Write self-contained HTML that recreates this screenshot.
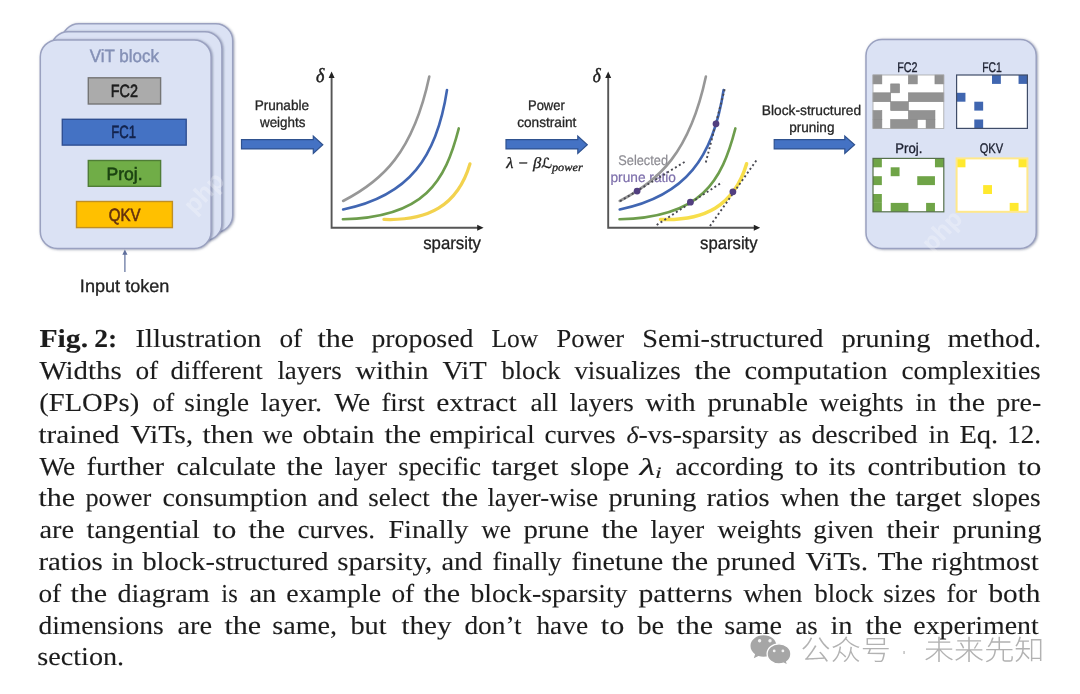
<!DOCTYPE html>
<html lang="en">
<head>
<meta charset="utf-8">
<title>Fig. 2 – Low Power Semi-structured pruning</title>
<style>
html,body{margin:0;padding:0;background:#fff}
body{width:1080px;height:694px;overflow:hidden}
svg{display:block;filter:blur(.35px)}
text{font-family:'Liberation Sans',sans-serif;white-space:pre;text-rendering:geometricPrecision}
.card{fill:#dbe2f4;stroke:#9aa1c0;stroke-width:1.5}
.box{stroke-width:1.4}
.b-fc2{fill:#ababab;stroke:#757575}
.b-fc1{fill:#4472c4;stroke:#2f4f93}
.b-proj{fill:#70ad47;stroke:#4f7d36}
.b-qkv{fill:#ffc000;stroke:#bf8f24}
.lb{font-size:17.8px;fill:#222;stroke:#222;stroke-width:.3}
.ls{font-size:14px;fill:#262626;stroke:#262626;stroke-width:.3}
.title{fill:#8490b6;stroke:#8490b6;stroke-width:.45}
.t-fc2{fill:#1d1d1d;stroke:#1d1d1d;stroke-width:.6}.t-fc1{fill:#13234c;stroke:#13234c;stroke-width:.6}.t-proj{fill:#1b4311;stroke:#1b4311;stroke-width:.6}.t-qkv{fill:#63300e;stroke:#63300e;stroke-width:.6}
.sel1{fill:#8c8b92;stroke:#8c8b92;stroke-width:.2}.sel2{fill:#7d6fab;stroke:#7d6fab;stroke-width:.2}
.pl{fill:#1c2030;stroke:#1c2030;stroke-width:.35}
.math{font-family:'Liberation Serif',serif;font-style:italic;font-size:20px;fill:#1e1e1e;stroke:#1e1e1e;stroke-width:.5}
.fm{font-size:15.5px;stroke-width:.3}
.scr{font-family:'DejaVu Sans','Liberation Serif',serif;font-style:normal;font-size:14px}
.sub{font-size:11.5px}
.inarrow{stroke:#5f6f9c;stroke-width:1.2;fill:none}.inhead{fill:#5f6f9c}
.arrow{fill:#4472c4;stroke:#2f528f;stroke-width:1.2;stroke-linejoin:miter}
.axis{fill:none;stroke:#565656;stroke-width:1.9}
.axhead{fill:#222}
.curve{fill:none;stroke-width:2.6;stroke-linecap:round}
.c-gray{stroke:#979797}.c-blue{stroke:#4166b2}.c-green{stroke:#6d9d4c}.c-yellow{stroke:#f2d24e;stroke-width:3.2}.c2 .c-yellow{stroke:#f7de4a;stroke-width:3.5}
.tan{fill:none;stroke:#4a4a52;stroke-width:1.9;stroke-dasharray:2 2.6}
.dot{fill:#523f80}
.gbg{fill:#fff}
.gfr{fill:none;stroke-width:1.2}
.g-fc2 .cell{fill:#929292;stroke:#858585;stroke-width:.6}.g-fc2 .gfr{stroke:#a6a6a6;stroke-width:.8}
.g-fc1 .cell{fill:#4066b0}.g-fc1 .gfr{stroke:#3f4c68}
.g-proj .cell{fill:#6fa447}.g-proj .gfr{stroke:#56704a}
.g-qkv .cell{fill:#ffe92e}.g-qkv .gfr{stroke:#ffe88a;stroke-width:2}
.c{font-family:'Liberation Serif',serif;font-size:25.8px;fill:#1c1c1c;stroke:#1c1c1c;stroke-width:.1}
.b{font-weight:bold}
.i{font-style:italic;font-size:24px}
.sub2{font-size:16px}
.php{font-size:25px;font-weight:bold;fill:#fff;opacity:.26}
.wb{fill:#a6a6a6}.wb2{fill:#a6a6a6;stroke:#fff;stroke-width:1.3}.we{fill:#f2f2f2}
.wmt{font-family:'Liberation Sans','Noto Sans CJK SC','WenQuanYi Zen Hei',sans-serif;font-size:28px;font-weight:300;fill:#b2b2b2}
</style>
</head>
<body>
<svg width="1080" height="694" viewBox="0 0 1080 694">
<defs><filter id="sh" x="-5%" y="-5%" width="112%" height="112%"><feDropShadow dx="0.9" dy="0.5" stdDeviation="0.9" flood-color="#4c5478" flood-opacity="0.55"/></filter></defs>
<rect width="1080" height="694" fill="#fff"/>
<g class="cards">
<rect class="card" filter="url(#sh)" x="61.9" y="23.7" width="170.8" height="208.6" rx="17"/>
<rect class="card" filter="url(#sh)" x="51.1" y="31.8" width="170.8" height="208.6" rx="17"/>
<rect class="card" filter="url(#sh)" x="40.3" y="39.9" width="170.8" height="208.6" rx="17"/>
</g>
<rect class="box b-fc2" x="88.3" y="77.8" width="72.3" height="26.2"/>
<rect class="box b-fc1" x="62.3" y="119.3" width="123.9" height="25.8"/>
<rect class="box b-proj" x="88.3" y="160.5" width="72.3" height="25.8"/>
<rect class="box b-qkv" x="76.5" y="201.5" width="95.9" height="26.1"/>
<path class="inarrow" d="M124.9 272 V252.5"/><path class="inhead" d="M124.9 249.6 l2.6 5.2 h-5.2 z"/>
<path class="arrow" d="M241.5 139.6 H313.3 V136 L322.8 144.7 L313.3 153.4 V148.9 H241.5 Z"/>
<path class="arrow" d="M506 139.6 H577.8 V136 L587.3 144.7 L577.8 153.4 V148.9 H506 Z"/>
<path class="arrow" d="M774.2 139.6 H844.8 V136 L854.6 144.7 L844.8 153.4 V148.9 H774.2 Z"/>
<g class="labels under">
<text class="ls sel1" x="618.3" y="165" textLength="49.72" lengthAdjust="spacingAndGlyphs">Selected</text>
<text class="ls sel2" x="610.5" y="182" textLength="65.49" lengthAdjust="spacingAndGlyphs">prune ratio</text>
</g>
<g class="chart" transform="translate(0 0)">
<path class="axis" d="M331.6 76 V227.8 H479"/>
<path class="axhead" d="M331.6 71.6 l3 6.4 h-6 z M483.6 227.8 l-6.4 3 v-6 z"/>
<path class="curve c-gray" d="M343.1 201 C382.1 181 413 152.9 429.3 76.5"/>
<path class="curve c-blue" d="M343.1 209.5 C409.4 196 436.7 157.3 447 90"/>
<path class="curve c-green" d="M342.9 219.2 C425 217.700 445.2 181.1 458.8 128.4"/>
<path class="curve c-yellow" d="M383.9 219.4 C427.2 221.1 457.5 206.4 470 163.8"/>
</g>
<g class="chart c2" transform="translate(276.6 0)">
<path class="axis" d="M331.6 76 V227.8 H479"/>
<path class="axhead" d="M331.6 71.6 l3 6.4 h-6 z M483.6 227.8 l-6.4 3 v-6 z"/>
<path class="curve c-gray" d="M343.1 201 C382.1 181 413 152.9 429.3 76.5"/>
<path class="curve c-blue" d="M343.1 209.5 C409.4 196 436.7 157.3 447 90"/>
<path class="curve c-green" d="M342.9 219.2 C425 217.700 445.2 181.1 458.8 128.4"/>
<path class="curve c-yellow" d="M383.9 219.4 C427.2 221.1 457.5 206.4 470 163.8"/>
</g>
<g class="tangents">
<path class="tan" d="M620 201.3 L686.7 160.7"/>
<path class="tan" d="M705.8 162.5 L725 88"/>
<path class="tan" d="M656.7 225 L722.2 182.2"/>
<path class="tan" d="M710 226 L757.8 158.4"/>
<circle class="dot" cx="637.1" cy="191.1" r="3.4"/>
<circle class="dot" cx="716" cy="123.8" r="3.4"/>
<circle class="dot" cx="690.4" cy="202.2" r="3.4"/>
<circle class="dot" cx="732.9" cy="191.8" r="3.4"/>
</g>
<rect class="card panel" filter="url(#sh)" x="866" y="39.6" width="170.2" height="208.8" rx="16"/>
<g class="grid g-fc2">
<rect class="gbg" x="873" y="75" width="70.8" height="53.4"/>
<rect class="cell" x="873" y="75" width="8.85" height="8.9"/>
<rect class="cell" x="908.4" y="75" width="8.85" height="8.9"/>
<rect class="cell" x="934.95" y="75" width="8.85" height="8.9"/>
<rect class="cell" x="890.7" y="83.9" width="8.85" height="8.9"/>
<rect class="cell" x="873" y="92.8" width="17.7" height="8.9"/>
<rect class="cell" x="908.4" y="92.8" width="35.4" height="8.9"/>
<rect class="cell" x="890.7" y="101.7" width="17.7" height="8.9"/>
<rect class="cell" x="873" y="110.6" width="8.85" height="8.9"/>
<rect class="cell" x="908.4" y="110.6" width="26.55" height="8.9"/>
<rect class="cell" x="873" y="119.5" width="8.85" height="8.9"/>
<rect class="cell" x="890.7" y="119.5" width="26.55" height="8.9"/>
<rect class="cell" x="926.1" y="119.5" width="8.85" height="8.9"/>
<rect class="gfr" x="873" y="75" width="70.8" height="53.4"/>
</g>
<g class="grid g-fc1">
<rect class="gbg" x="956.6" y="75" width="70.8" height="53.4"/>
<rect class="cell" x="992" y="75" width="8.85" height="8.9"/>
<rect class="cell" x="1018.55" y="75" width="8.85" height="8.9"/>
<rect class="cell" x="956.6" y="92.8" width="8.85" height="8.9"/>
<rect class="cell" x="974.3" y="101.7" width="8.85" height="8.9"/>
<rect class="cell" x="974.3" y="119.5" width="8.85" height="8.9"/>
<rect class="gfr" x="956.6" y="75" width="70.8" height="53.4"/>
</g>
<g class="grid g-proj">
<rect class="gbg" x="873" y="158.4" width="70.8" height="53.4"/>
<rect class="cell" x="873" y="158.4" width="8.85" height="8.9"/>
<rect class="cell" x="934.95" y="158.4" width="8.85" height="8.9"/>
<rect class="cell" x="890.7" y="167.3" width="8.85" height="8.9"/>
<rect class="cell" x="873" y="176.2" width="8.85" height="8.9"/>
<rect class="cell" x="917.25" y="176.2" width="17.7" height="8.9"/>
<rect class="cell" x="873" y="194" width="8.85" height="8.9"/>
<rect class="cell" x="873" y="202.9" width="8.85" height="8.9"/>
<rect class="cell" x="890.7" y="202.9" width="17.7" height="8.9"/>
<rect class="cell" x="926.1" y="202.9" width="8.85" height="8.9"/>
<rect class="gfr" x="873" y="158.4" width="70.8" height="53.4"/>
</g>
<g class="grid g-qkv">
<rect class="gbg" x="956.6" y="158.4" width="70.8" height="53.4"/>
<rect class="cell" x="956.6" y="158.4" width="8.85" height="8.9"/>
<rect class="cell" x="1018.55" y="158.4" width="8.85" height="8.9"/>
<rect class="cell" x="983.15" y="185.1" width="8.85" height="8.9"/>
<rect class="cell" x="1009.7" y="202.9" width="8.85" height="8.9"/>
<rect class="gfr" x="956.6" y="158.4" width="70.8" height="53.4"/>
</g>
<g class="labels">
<text class="lb title" x="89.8" y="62.2" textLength="69.2" lengthAdjust="spacingAndGlyphs">ViT block</text>
<text class="lb t-fc2" x="110.79" y="96.9" textLength="27.23" lengthAdjust="spacingAndGlyphs">FC2</text>
<text class="lb t-fc1" x="111.36" y="138.2" textLength="24.76" lengthAdjust="spacingAndGlyphs">FC1</text>
<text class="lb t-proj" x="106.62" y="179.6" textLength="36.01" lengthAdjust="spacingAndGlyphs">Proj.</text>
<text class="lb t-qkv" x="108.7" y="221" textLength="31.78" lengthAdjust="spacingAndGlyphs">QKV</text>
<text class="lb" x="79.88" y="292" textLength="89.52" lengthAdjust="spacingAndGlyphs">Input token</text>
<text class="ls" x="254.63" y="109.7" textLength="54.46" lengthAdjust="spacingAndGlyphs">Prunable</text>
<text class="ls" x="259.96" y="126.5" textLength="45.44" lengthAdjust="spacingAndGlyphs">weights</text>
<text class="ls" x="527.97" y="110" textLength="36.81" lengthAdjust="spacingAndGlyphs">Power</text>
<text class="ls" x="517.2" y="126.7" textLength="59.19" lengthAdjust="spacingAndGlyphs">constraint</text>
<text class="ls" x="761.82" y="115.2" textLength="99.35" lengthAdjust="spacingAndGlyphs">Block-structured</text>
<text class="ls" x="789.2" y="132.4" textLength="45.26" lengthAdjust="spacingAndGlyphs">pruning</text>
<text class="lb" x="423.2" y="248.9" textLength="57.8" lengthAdjust="spacingAndGlyphs">sparsity</text>
<text class="lb" x="700.1" y="248.9" textLength="57.5" lengthAdjust="spacingAndGlyphs">sparsity</text>
<text class="ls pl" x="897.23" y="71.8" textLength="20.41" lengthAdjust="spacingAndGlyphs">FC2</text>
<text class="ls pl" x="982.26" y="71.8" textLength="19.58" lengthAdjust="spacingAndGlyphs">FC1</text>
<text class="ls pl" x="895.36" y="153.4" textLength="26.97" lengthAdjust="spacingAndGlyphs">Proj.</text>
<text class="ls pl" x="979.7" y="153.4" textLength="23.47" lengthAdjust="spacingAndGlyphs">QKV</text>
<text class="math" x="316" y="82" textLength="8.37" lengthAdjust="spacingAndGlyphs">δ</text>
<text class="math" x="592.7" y="82" textLength="8" lengthAdjust="spacingAndGlyphs">δ</text>
<text class="math fm" x="506.3" y="168" textLength="76.4" lengthAdjust="spacingAndGlyphs">λ − β<tspan class="scr">ℒ</tspan><tspan class="sub" dy="3.4">power</tspan></text>
</g>
<g class="caption">
<text class="c" y="347.4"><tspan class="b" x="39.4" textLength="48.72" lengthAdjust="spacingAndGlyphs">Fig.</tspan> <tspan class="b" x="94.33" textLength="22.97" lengthAdjust="spacingAndGlyphs">2:</tspan> <tspan x="135.4" textLength="126.09" lengthAdjust="spacingAndGlyphs">Illustration</tspan> <tspan x="279.4" textLength="22.77" lengthAdjust="spacingAndGlyphs">of</tspan> <tspan x="317.4" textLength="36.72" lengthAdjust="spacingAndGlyphs">the</tspan> <tspan x="371.4" textLength="102.09" lengthAdjust="spacingAndGlyphs">proposed</tspan> <tspan x="491.4" textLength="46.83" lengthAdjust="spacingAndGlyphs">Low</tspan> <tspan x="556.4" textLength="67.78" lengthAdjust="spacingAndGlyphs">Power</tspan> <tspan x="642.3" textLength="181.19" lengthAdjust="spacingAndGlyphs">Semi-structured</tspan> <tspan x="841.4" textLength="89.09" lengthAdjust="spacingAndGlyphs">pruning</tspan> <tspan x="947.4" textLength="93.82" lengthAdjust="spacingAndGlyphs">method.</tspan></text>
<text class="c" y="379.2"><tspan x="39.4" textLength="82.24" lengthAdjust="spacingAndGlyphs">Widths</tspan> <tspan x="135.4" textLength="22.77" lengthAdjust="spacingAndGlyphs">of</tspan> <tspan x="170.4" textLength="92.33" lengthAdjust="spacingAndGlyphs">different</tspan> <tspan x="277.4" textLength="64.24" lengthAdjust="spacingAndGlyphs">layers</tspan> <tspan x="355.4" textLength="73.09" lengthAdjust="spacingAndGlyphs">within</tspan> <tspan x="442.4" textLength="43.93" lengthAdjust="spacingAndGlyphs">ViT</tspan> <tspan x="501.4" textLength="59.1" lengthAdjust="spacingAndGlyphs">block</tspan> <tspan x="574.4" textLength="106.24" lengthAdjust="spacingAndGlyphs">visualizes</tspan> <tspan x="694.4" textLength="36.72" lengthAdjust="spacingAndGlyphs">the</tspan> <tspan x="744.4" textLength="143.09" lengthAdjust="spacingAndGlyphs">computation</tspan> <tspan x="901.4" textLength="139.24" lengthAdjust="spacingAndGlyphs">complexities</tspan></text>
<text class="c" y="411"><tspan x="39.29" textLength="99.96" lengthAdjust="spacingAndGlyphs">(FLOPs)</tspan> <tspan x="152.4" textLength="21.78" lengthAdjust="spacingAndGlyphs">of</tspan> <tspan x="184.35" textLength="64.72" lengthAdjust="spacingAndGlyphs">single</tspan> <tspan x="260.4" textLength="61.78" lengthAdjust="spacingAndGlyphs">layer.</tspan> <tspan x="334.4" textLength="35.68" lengthAdjust="spacingAndGlyphs">We</tspan> <tspan x="381.4" textLength="43.33" lengthAdjust="spacingAndGlyphs">first</tspan> <tspan x="436.25" textLength="80.39" lengthAdjust="spacingAndGlyphs">extract</tspan> <tspan x="530.4" textLength="27.38" lengthAdjust="spacingAndGlyphs">all</tspan> <tspan x="569.4" textLength="64.24" lengthAdjust="spacingAndGlyphs">layers</tspan> <tspan x="645.4" textLength="50.09" lengthAdjust="spacingAndGlyphs">with</tspan> <tspan x="707.4" textLength="100.7" lengthAdjust="spacingAndGlyphs">prunable</tspan> <tspan x="819.4" textLength="84.24" lengthAdjust="spacingAndGlyphs">weights</tspan> <tspan x="915.4" textLength="21.09" lengthAdjust="spacingAndGlyphs">in</tspan> <tspan x="948.4" textLength="36.72" lengthAdjust="spacingAndGlyphs">the</tspan> <tspan x="996.4" textLength="44.84" lengthAdjust="spacingAndGlyphs">pre-</tspan></text>
<text class="c" y="442.8"><tspan x="38.4" textLength="81.09" lengthAdjust="spacingAndGlyphs">trained</tspan> <tspan x="130.4" textLength="62.87" lengthAdjust="spacingAndGlyphs">ViTs,</tspan> <tspan x="202.4" textLength="51.08" lengthAdjust="spacingAndGlyphs">then</tspan> <tspan x="262.4" textLength="30.66" lengthAdjust="spacingAndGlyphs">we</tspan> <tspan x="302.4" textLength="72.09" lengthAdjust="spacingAndGlyphs">obtain</tspan> <tspan x="384.4" textLength="36.72" lengthAdjust="spacingAndGlyphs">the</tspan> <tspan x="429.32" textLength="105.46" lengthAdjust="spacingAndGlyphs">empirical</tspan> <tspan x="544.4" textLength="71.24" lengthAdjust="spacingAndGlyphs">curves</tspan> <tspan x="626.4" textLength="142.09" lengthAdjust="spacingAndGlyphs"><tspan class="i">δ</tspan>-vs-sparsity</tspan> <tspan x="778.4" textLength="23.24" lengthAdjust="spacingAndGlyphs">as</tspan> <tspan x="811.4" textLength="106.09" lengthAdjust="spacingAndGlyphs">described</tspan> <tspan x="928.4" textLength="21.09" lengthAdjust="spacingAndGlyphs">in</tspan> <tspan x="959.4" textLength="38.8" lengthAdjust="spacingAndGlyphs">Eq.</tspan> <tspan x="1007.3" textLength="33.82" lengthAdjust="spacingAndGlyphs">12.</tspan></text>
<text class="c" y="474.6"><tspan x="39.4" textLength="35.68" lengthAdjust="spacingAndGlyphs">We</tspan> <tspan x="86.4" textLength="77.75" lengthAdjust="spacingAndGlyphs">further</tspan> <tspan x="176.4" textLength="99.69" lengthAdjust="spacingAndGlyphs">calculate</tspan> <tspan x="286.4" textLength="36.72" lengthAdjust="spacingAndGlyphs">the</tspan> <tspan x="334.4" textLength="52.78" lengthAdjust="spacingAndGlyphs">layer</tspan> <tspan x="398.37" textLength="82.69" lengthAdjust="spacingAndGlyphs">specific</tspan> <tspan x="491.4" textLength="67.24" lengthAdjust="spacingAndGlyphs">target</tspan> <tspan x="570.32" textLength="58.76" lengthAdjust="spacingAndGlyphs">slope</tspan> <tspan x="639.4" textLength="22.39" lengthAdjust="spacingAndGlyphs"><tspan class="i">λ</tspan><tspan class="i sub2" dy="3.6">i</tspan></tspan> <tspan x="675.4" dy="-3.6" textLength="108.09" lengthAdjust="spacingAndGlyphs">according</tspan> <tspan x="794.79" textLength="23.48" lengthAdjust="spacingAndGlyphs">to</tspan> <tspan x="828.4" textLength="27.24" lengthAdjust="spacingAndGlyphs">its</tspan> <tspan x="867.4" textLength="139.09" lengthAdjust="spacingAndGlyphs">contribution</tspan> <tspan x="1017.79" textLength="23.48" lengthAdjust="spacingAndGlyphs">to</tspan></text>
<text class="c" y="506.4"><tspan x="38.4" textLength="36.72" lengthAdjust="spacingAndGlyphs">the</tspan> <tspan x="85.4" textLength="65.78" lengthAdjust="spacingAndGlyphs">power</tspan> <tspan x="162.4" textLength="145.09" lengthAdjust="spacingAndGlyphs">consumption</tspan> <tspan x="317.4" textLength="41.09" lengthAdjust="spacingAndGlyphs">and</tspan> <tspan x="368.35" textLength="61.37" lengthAdjust="spacingAndGlyphs">select</tspan> <tspan x="441.4" textLength="36.72" lengthAdjust="spacingAndGlyphs">the</tspan> <tspan x="487.4" textLength="110.67" lengthAdjust="spacingAndGlyphs">layer-wise</tspan> <tspan x="608.4" textLength="88.09" lengthAdjust="spacingAndGlyphs">pruning</tspan> <tspan x="706.4" textLength="63.24" lengthAdjust="spacingAndGlyphs">ratios</tspan> <tspan x="780.4" textLength="59.09" lengthAdjust="spacingAndGlyphs">when</tspan> <tspan x="849.4" textLength="36.72" lengthAdjust="spacingAndGlyphs">the</tspan> <tspan x="895.4" textLength="66.25" lengthAdjust="spacingAndGlyphs">target</tspan> <tspan x="972.34" textLength="68.3" lengthAdjust="spacingAndGlyphs">slopes</tspan></text>
<text class="c" y="538.2"><tspan x="39.4" textLength="34.7" lengthAdjust="spacingAndGlyphs">are</tspan> <tspan x="86.4" textLength="113.39" lengthAdjust="spacingAndGlyphs">tangential</tspan> <tspan x="212.79" textLength="23.48" lengthAdjust="spacingAndGlyphs">to</tspan> <tspan x="248.4" textLength="36.72" lengthAdjust="spacingAndGlyphs">the</tspan> <tspan x="297.4" textLength="77.73" lengthAdjust="spacingAndGlyphs">curves.</tspan> <tspan x="388.4" textLength="80.09" lengthAdjust="spacingAndGlyphs">Finally</tspan> <tspan x="481.4" textLength="29.64" lengthAdjust="spacingAndGlyphs">we</tspan> <tspan x="523.4" textLength="65.7" lengthAdjust="spacingAndGlyphs">prune</tspan> <tspan x="601.4" textLength="36.72" lengthAdjust="spacingAndGlyphs">the</tspan> <tspan x="650.4" textLength="53.77" lengthAdjust="spacingAndGlyphs">layer</tspan> <tspan x="717.4" textLength="84.24" lengthAdjust="spacingAndGlyphs">weights</tspan> <tspan x="813.35" textLength="60.14" lengthAdjust="spacingAndGlyphs">given</tspan> <tspan x="886.4" textLength="52.74" lengthAdjust="spacingAndGlyphs">their</tspan> <tspan x="952.4" textLength="89.09" lengthAdjust="spacingAndGlyphs">pruning</tspan></text>
<text class="c" y="570"><tspan x="38.4" textLength="64.24" lengthAdjust="spacingAndGlyphs">ratios</tspan> <tspan x="111.4" textLength="22.09" lengthAdjust="spacingAndGlyphs">in</tspan> <tspan x="142.4" textLength="186.09" lengthAdjust="spacingAndGlyphs">block-structured</tspan> <tspan x="337.28" textLength="94.93" lengthAdjust="spacingAndGlyphs">sparsity,</tspan> <tspan x="441.4" textLength="41.09" lengthAdjust="spacingAndGlyphs">and</tspan> <tspan x="492.4" textLength="69.1" lengthAdjust="spacingAndGlyphs">finally</tspan> <tspan x="571.4" textLength="91.69" lengthAdjust="spacingAndGlyphs">finetune</tspan> <tspan x="671.4" textLength="36.72" lengthAdjust="spacingAndGlyphs">the</tspan> <tspan x="716.4" textLength="79.09" lengthAdjust="spacingAndGlyphs">pruned</tspan> <tspan x="805.4" textLength="62.87" lengthAdjust="spacingAndGlyphs">ViTs.</tspan> <tspan x="877.4" textLength="45.71" lengthAdjust="spacingAndGlyphs">The</tspan> <tspan x="931.4" textLength="107.3" lengthAdjust="spacingAndGlyphs">rightmost</tspan></text>
<text class="c" y="601.8"><tspan x="38.4" textLength="22.77" lengthAdjust="spacingAndGlyphs">of</tspan> <tspan x="70.4" textLength="36.72" lengthAdjust="spacingAndGlyphs">the</tspan> <tspan x="117.4" textLength="92.27" lengthAdjust="spacingAndGlyphs">diagram</tspan> <tspan x="221.35" textLength="16.35" lengthAdjust="spacingAndGlyphs">is</tspan> <tspan x="249.4" textLength="27.09" lengthAdjust="spacingAndGlyphs">an</tspan> <tspan x="286.32" textLength="94.77" lengthAdjust="spacingAndGlyphs">example</tspan> <tspan x="391.4" textLength="22.77" lengthAdjust="spacingAndGlyphs">of</tspan> <tspan x="423.4" textLength="36.72" lengthAdjust="spacingAndGlyphs">the</tspan> <tspan x="470.4" textLength="157.09" lengthAdjust="spacingAndGlyphs">block-sparsity</tspan> <tspan x="638.4" textLength="94.25" lengthAdjust="spacingAndGlyphs">patterns</tspan> <tspan x="743.4" textLength="59.09" lengthAdjust="spacingAndGlyphs">when</tspan> <tspan x="814.4" textLength="59.1" lengthAdjust="spacingAndGlyphs">block</tspan> <tspan x="883.36" textLength="52.28" lengthAdjust="spacingAndGlyphs">sizes</tspan> <tspan x="946.4" textLength="30.78" lengthAdjust="spacingAndGlyphs">for</tspan> <tspan x="988.4" textLength="52.08" lengthAdjust="spacingAndGlyphs">both</tspan></text>
<text class="c" y="633.6"><tspan x="38.4" textLength="125.24" lengthAdjust="spacingAndGlyphs">dimensions</tspan> <tspan x="177.4" textLength="34.7" lengthAdjust="spacingAndGlyphs">are</tspan> <tspan x="224.4" textLength="36.72" lengthAdjust="spacingAndGlyphs">the</tspan> <tspan x="272.31" textLength="64.87" lengthAdjust="spacingAndGlyphs">same,</tspan> <tspan x="350.4" textLength="36.28" lengthAdjust="spacingAndGlyphs">but</tspan> <tspan x="401.4" textLength="50.09" lengthAdjust="spacingAndGlyphs">they</tspan> <tspan x="464.4" textLength="57.32" lengthAdjust="spacingAndGlyphs">don’t</tspan> <tspan x="536.4" textLength="51.68" lengthAdjust="spacingAndGlyphs">have</tspan> <tspan x="600.79" textLength="23.48" lengthAdjust="spacingAndGlyphs">to</tspan> <tspan x="637.4" textLength="26.69" lengthAdjust="spacingAndGlyphs">be</tspan> <tspan x="676.4" textLength="36.72" lengthAdjust="spacingAndGlyphs">the</tspan> <tspan x="724.31" textLength="57.78" lengthAdjust="spacingAndGlyphs">same</tspan> <tspan x="795.4" textLength="22.24" lengthAdjust="spacingAndGlyphs">as</tspan> <tspan x="830.4" textLength="22.09" lengthAdjust="spacingAndGlyphs">in</tspan> <tspan x="865.4" textLength="36.72" lengthAdjust="spacingAndGlyphs">the</tspan> <tspan x="913.32" textLength="125.38" lengthAdjust="spacingAndGlyphs">experiment</tspan></text>
<text class="c" y="665.4"><tspan x="37.31" textLength="86.88" lengthAdjust="spacingAndGlyphs">section.</tspan></text>
</g>
<text class="php" transform="translate(194 215) rotate(-46)">php</text>
<text class="php" transform="translate(932 253) rotate(-46)">php</text>
<g class="wm">
<path class="wb" d="M763.5 635.3c-7.2 0-13 4.8-13 10.8 0 3.3 1.8 6.2 4.6 8.2l-1.3 3.9 4.6-2.3c1.6.5 3.3.8 5.1.8 7.2 0 13-4.8 13-10.8s-5.800-10.600-13-10.600z"/>
<path class="wb2" d="M779 643.800c6.600 0 11.900 4.600 11.900 10.200 0 3.100-1.600 5.900-4.200 7.800l1.100 3.500-4.100-2.100c-1.500.5-3.100.7-4.700.7-6.600 0-11.900-4.600-11.900-10.200s5.300-9.900 11.900-9.900z"/>
<path class="we" d="M757.9 640.800a1.700 1.700 0 1 0 3.400 0a1.700 1.700 0 1 0 -3.400 0z M768.300 640.800a1.700 1.700 0 1 0 3.400 0a1.700 1.700 0 1 0 -3.400 0z M772.800 650.900a1.400 1.400 0 1 0 2.800 0a1.400 1.400 0 1 0 -2.800 0z M781.500 650.900a1.400 1.400 0 1 0 2.800 0a1.400 1.400 0 1 0 -2.800 0z"/>
<text class="wmt" y="660.4"><tspan x="800.6" textLength="90.3" lengthAdjust="spacingAndGlyphs">公众号</tspan><tspan x="898.5" textLength="11" lengthAdjust="spacingAndGlyphs"> · </tspan><tspan x="924" textLength="120.4" lengthAdjust="spacingAndGlyphs">未来先知</tspan></text>
</g>
</svg>
</body>
</html>
